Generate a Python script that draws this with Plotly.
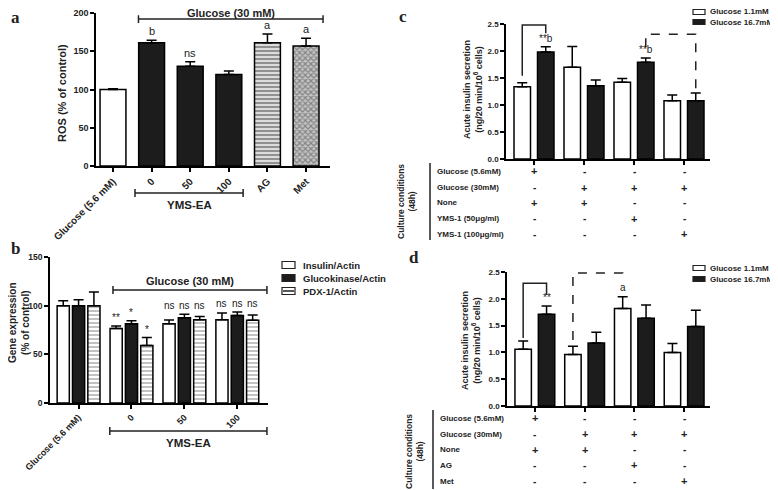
import plotly.graph_objects as go

# the page body keeps an 8px margin, so the figure is 8px smaller and every
# pixel position below is measured on the full 778x490 screen
PAGE_PAD = 8
W, H = 778 - PAGE_PAD, 490 - PAGE_PAD
FONT = "Arial, Liberation Sans, sans-serif"
SERIF = "Liberation Serif, DejaVu Serif, serif"

# ---- panel a: ROS ----
ros_labels = ["Glucose (5.6 mM)", "0", "50", "100", "AG", "Met"]
ros_mean = [100, 161, 130.5, 119.5, 161, 157]
ros_sem = [1, 3.5, 5.7, 4.8, 11.5, 10]
ros_marks = ["", "b", "ns", "", "a", "a"]

# ---- panel b: gene expression ----
gene_labels = ["Glucose (5.6 mM)", "0", "50", "100"]
gene_series = ["Insulin/Actin", "Glucokinase/Actin", "PDX-1/Actin"]
insulin_mean = [100, 76.5, 81.5, 85.5]
insulin_sem = [5, 2.7, 3.8, 7]
gk_mean = [100, 81.5, 87.5, 90]
gk_sem = [6, 3.1, 3.8, 3.5]
pdx_mean = [100, 59, 85.5, 85]
pdx_sem = [14, 8.2, 3.4, 5.5]
insulin_marks = ["", "**", "ns", "ns"]
gk_marks = ["", "*", "ns", "ns"]
pdx_marks = ["", "*", "ns", "ns"]

# ---- panels c, d: acute insulin secretion ----
secretion_series = ["Glucose 1.1mM", "Glucose 16.7mM"]
c_low = [1.34, 1.70, 1.42, 1.08]
c_low_sem = [0.07, 0.385, 0.07, 0.105]
c_high = [1.98, 1.355, 1.79, 1.08]
c_high_sem = [0.10, 0.11, 0.08, 0.14]
c_low_marks = ["", "", "", ""]
c_high_marks = ["**b", "", "**b", ""]
c_rows = ["Glucose (5.6mM)", "Glucose (30mM)", "None", "YMS-1 (50\u03bcg/ml)", "YMS-1 (100\u03bcg/ml)"]
c_table = [["+", "-", "-", "-"],
           ["-", "+", "+", "+"],
           ["+", "+", "-", "-"],
           ["-", "-", "+", "-"],
           ["-", "-", "-", "+"]]

d_low = [1.06, 0.96, 1.82, 1.00]
d_low_sem = [0.155, 0.155, 0.22, 0.165]
d_high = [1.71, 1.175, 1.635, 1.485]
d_high_sem = [0.155, 0.20, 0.25, 0.30]
d_low_marks = ["", "", "a", ""]
d_high_marks = ["**", "", "", ""]
d_rows = ["Glucose (5.6mM)", "Glucose (30mM)", "None", "AG", "Met"]
d_table = [["+", "-", "-", "-"],
           ["-", "+", "+", "+"],
           ["+", "+", "-", "-"],
           ["-", "-", "+", "-"],
           ["-", "-", "-", "+"]]


def px(x):
    return (x - PAGE_PAD) / W


def py(y):
    return 1 - (y - PAGE_PAD) / H


BLACK = "#1c1c1c"
OUTLINE = dict(color="black", width=1.5)


def err(sem):
    return dict(type="data", symmetric=False, array=sem, arrayminus=[0] * len(sem),
                color="black", thickness=1.5, width=5)


fig = go.Figure()

# panel a bars
ros_fill = ["white", BLACK, BLACK, BLACK, "#dcdcdc", "#c4c4c4"]
ros_pattern = ["", "", "", "", "-", "x"]
ros_fg = ["black", "black", "black", "black", "#6a6a6a", "#333333"]
fig.add_trace(go.Bar(
    x=list(range(len(ros_mean))), y=ros_mean, width=0.67,
    marker=dict(color=ros_fill, line=OUTLINE,
                pattern=dict(shape=ros_pattern, fgcolor=ros_fg, bgcolor=ros_fill,
                             size=4, solidity=0.5)),
    error_y=err(ros_sem), xaxis="x", yaxis="y", showlegend=False))

# panel b bars
b_width = 0.23
b_offsets = [-0.405, -0.115, 0.175]
b_fill = ["white", BLACK, "white"]
b_pattern = ["", "", "-"]
b_means = [insulin_mean, gk_mean, pdx_mean]
b_sems = [insulin_sem, gk_sem, pdx_sem]
b_marks = [insulin_marks, gk_marks, pdx_marks]
for name, m, s, off, fill, pat in zip(gene_series, b_means, b_sems, b_offsets, b_fill, b_pattern):
    fig.add_trace(go.Bar(
        name=name, x=list(range(len(m))), y=m, width=b_width, offset=off,
        marker=dict(color=fill, line=OUTLINE,
                    pattern=dict(shape=pat, fgcolor="#777777", bgcolor="white", size=4, solidity=0.45)),
        error_y=err(s), xaxis="x2", yaxis="y2", showlegend=False))

# panels c, d bars
cd_width = 0.33
cd_offsets = [-0.4, 0.07]
cd_fill = ["white", BLACK]
for xa, ya, low, low_s, high, high_s in [("x3", "y3", c_low, c_low_sem, c_high, c_high_sem),
                                         ("x4", "y4", d_low, d_low_sem, d_high, d_high_sem)]:
    for name, m, s, off, fill in zip(secretion_series, [low, high], [low_s, high_s], cd_offsets, cd_fill):
        fig.add_trace(go.Bar(
            name=name, x=list(range(len(m))), y=m, width=cd_width, offset=off,
            marker=dict(color=fill, line=OUTLINE),
            error_y=err(s), xaxis=xa, yaxis=ya, showlegend=False))

axis_style = dict(showline=True, linecolor="black", linewidth=1.5, ticks="outside",
                  ticklen=4, tickwidth=1.5, tickcolor="black", showgrid=False, zeroline=False,
                  automargin=False)


def tf(size):
    return dict(family=FONT, size=size, color="#222", weight="bold")


fig.update_layout(
    width=W, height=H, margin=dict(l=0, r=0, t=0, b=0),
    paper_bgcolor="white", plot_bgcolor="white", barmode="overlay",
    font=dict(family=FONT, color="#222"),
    xaxis=dict(axis_style, domain=[px(96), px(330)], anchor="y", range=[-0.44, 5.62],
               tickvals=list(range(len(ros_labels))), ticktext=ros_labels, tickangle=-45, tickfont=tf(10)),
    yaxis=dict(axis_style, domain=[py(166), py(13)], anchor="x", range=[0, 200],
               tickvals=[0, 50, 100, 150, 200], tickfont=tf(9)),
    xaxis2=dict(axis_style, domain=[px(50), px(268)], anchor="y2", range=[-0.54, 3.58],
                tickvals=list(range(len(gene_labels))), ticktext=gene_labels, tickangle=-45, tickfont=tf(9)),
    yaxis2=dict(axis_style, domain=[py(403), py(257)], anchor="x2", range=[0, 150],
                tickvals=[0, 50, 100, 150], tickfont=tf(8.5)),
    xaxis3=dict(axis_style, domain=[px(506), px(710)], anchor="y3", range=[-0.56, 3.52],
                tickvals=list(range(4)), showticklabels=False),
    yaxis3=dict(axis_style, domain=[py(159), py(24)], anchor="x3", range=[0, 2.5],
                tickvals=[0, 0.5, 1, 1.5, 2, 2.5], tickformat=".1f", tickfont=tf(8)),
    xaxis4=dict(axis_style, domain=[px(507), px(710)], anchor="y4", range=[-0.56, 3.52],
                tickvals=list(range(4)), showticklabels=False),
    yaxis4=dict(axis_style, domain=[py(406), py(272)], anchor="x4", range=[0, 2.5],
                tickvals=[0, 0.5, 1, 1.5, 2, 2.5], tickformat=".1f", tickfont=tf(8)),
)


def note(text, x, y, xref="paper", yref="paper", size=10, bold=True, **kw):
    kw.setdefault("xanchor", "center")
    kw.setdefault("yanchor", "middle")
    fig.add_annotation(text=text, x=x, y=y, xref=xref, yref=yref, showarrow=False,
                       font=dict(family=kw.pop("family", FONT), size=size, color="#222",
                                 weight="bold" if bold else "normal"), **kw)


def line(x0, y0, x1, y1, xref="paper", yref="paper", dash="solid"):
    fig.add_shape(type="line", x0=x0, y0=y0, x1=x1, y1=y1, xref=xref, yref=yref,
                  line=dict(color="#222", width=1.5, dash=dash))


def hbracket(x0, x1, y, cap, xref, yref):
    fig.add_shape(type="path", xref=xref, yref=yref,
                  path=f"M{x0},{y - cap} L{x0},{y + cap} M{x0},{y} L{x1},{y} M{x1},{y - cap} L{x1},{y + cap}",
                  line=dict(color="#222", width=1.5))


def leg_bracket(x0, x1, yl, top, yr, xref, yref, dash="solid"):
    fig.add_shape(type="path", xref=xref, yref=yref,
                  path=f"M{x0},{yl} L{x0},{top} L{x1},{top} L{x1},{yr}",
                  line=dict(color="#222", width=1.5, dash=dash))


# panel letters
for letter, x, y in [("a", 15, 17), ("b", 15, 248), ("c", 403, 16), ("d", 414, 257)]:
    note(letter, px(x), py(y), size=17, family=SERIF)

# axis titles
note("ROS (% of control)", px(62), py(93), size=11, textangle=-90)
note("Gene expression<br>(% of control)", px(19), py(323), size=10, textangle=-90)
note("Acute insulin secretion<br>(ng/20 min/10<sup>6</sup> cells)", px(473), py(90), size=9, textangle=-90)
note("Acute insulin secretion<br>(ng/20 min/10<sup>6</sup> cells)", px(471), py(341), size=9, textangle=-90)

# panel a marks and brackets
for i, m in enumerate(ros_marks):
    if m:
        note(m, i, ros_mean[i] + ros_sem[i], "x", "y", size=11, bold=False, yanchor="bottom", yshift=1)
hbracket(0.66, 5.44, 192, 5.2, "x", "y")
note("Glucose (30 mM)", 3.05, py(13.5), "x", "paper", size=11)
hbracket(0.57, 3.37, py(193), 4 / H, "x", "paper")
note("YMS-EA", 1.97, py(205), "x", "paper", size=11.5)

# panel b marks and brackets
for k, (m, s, marks) in enumerate(zip(b_means, b_sems, b_marks)):
    xc = b_offsets[k] + b_width / 2
    for i, mk in enumerate(marks):
        if not mk:
            continue
        if mk == "ns":
            top = max(bm[i] + bs[i] for bm, bs in zip(b_means, b_sems))
        else:
            top = m[i] + s[i]
        note(mk, i + xc, top, "x2", "y2", size=10, bold=False, yanchor="bottom", yshift=1)
hbracket(0.65, 3.56, 116, 4.1, "x2", "y2")
note("Glucose (30 mM)", 2.1, py(281), "x2", "paper", size=11)
hbracket(0.59, 3.56, py(431), 4 / H, "x2", "paper")
note("YMS-EA", 2.08, py(443), "x2", "paper", size=11.5)

# panel b legend
for name, yc, fill in zip(gene_series, [265, 278, 291], b_fill):
    fig.add_shape(type="rect", x0=px(282), x1=px(295), y0=py(yc + 3.5), y1=py(yc - 3.5),
                  xref="paper", yref="paper", fillcolor=fill, line=dict(color="#222", width=1.2))
    note(name, px(301), py(yc), size=9.5, xanchor="left")
line(px(283), py(291), px(294), py(291))

# panels c, d: marks, brackets, legends, tables
wc = cd_offsets[0] + cd_width / 2
bc = cd_offsets[1] + cd_width / 2
for xa, ya, low, low_s, high, high_s, lm, hm in [
        ("x3", "y3", c_low, c_low_sem, c_high, c_high_sem, c_low_marks, c_high_marks),
        ("x4", "y4", d_low, d_low_sem, d_high, d_high_sem, d_low_marks, d_high_marks)]:
    for i in range(len(low)):
        if lm[i]:
            note(lm[i], i + wc, low[i] + low_s[i], xa, ya, size=10, bold=False, yanchor="bottom", yshift=2)
        if hm[i]:
            note(hm[i], i + bc, high[i] + high_s[i], xa, ya, size=10, bold=False, yanchor="bottom", yshift=1)

leg_bracket(0 + wc, 0 + bc, 1.54, 2.48, 2.33, "x3", "y3")
leg_bracket(2 + bc, 3 + bc, 2.07, 2.31, 1.28, "x3", "y3", dash="dash")
leg_bracket(0 + wc, 0 + bc, 1.27, 2.29, 2.07, "x4", "y4")
leg_bracket(1 + wc, 2 + wc, 1.23, 2.48, 2.31, "x4", "y4", dash="dash")

for box_x, text_x, ys in [(693, 708, [12, 22]), (693, 708, [268, 279])]:
    for name, yc, fill in zip(secretion_series, ys, cd_fill):
        fig.add_shape(type="rect", x0=px(box_x), x1=px(box_x + 12), y0=py(yc + 2.5), y1=py(yc - 2.5),
                      xref="paper", yref="paper", fillcolor=fill, line=dict(color="#222", width=1.2))
        note(name, px(text_x), py(yc), size=8, xanchor="left")

for xa, rows, table, lab_x, vline_x, row_y, vtop, vbot, cc in [
        ("x3", c_rows, c_table, 435, 430, [171, 187.5, 202.5, 218.5, 234], 163, 240, (406, 201)),
        ("x4", d_rows, d_table, 438, 433, [418, 434, 449.5, 465, 481], 410, 489, (414, 451))]:
    line(px(vline_x), py(vtop), px(vline_x), py(vbot))
    note("Culture conditions<br>(48h)", px(cc[0]), py(cc[1]), size=8.5, textangle=-90)
    for r, (label, yr) in enumerate(zip(rows, row_y)):
        note(label, px(lab_x), py(yr), size=8, xanchor="left")
        for g, sym in enumerate(table[r]):
            note(sym, g, py(yr), xa, "paper", size=11 if sym == "+" else 10)

fig.write_html("out.html")
